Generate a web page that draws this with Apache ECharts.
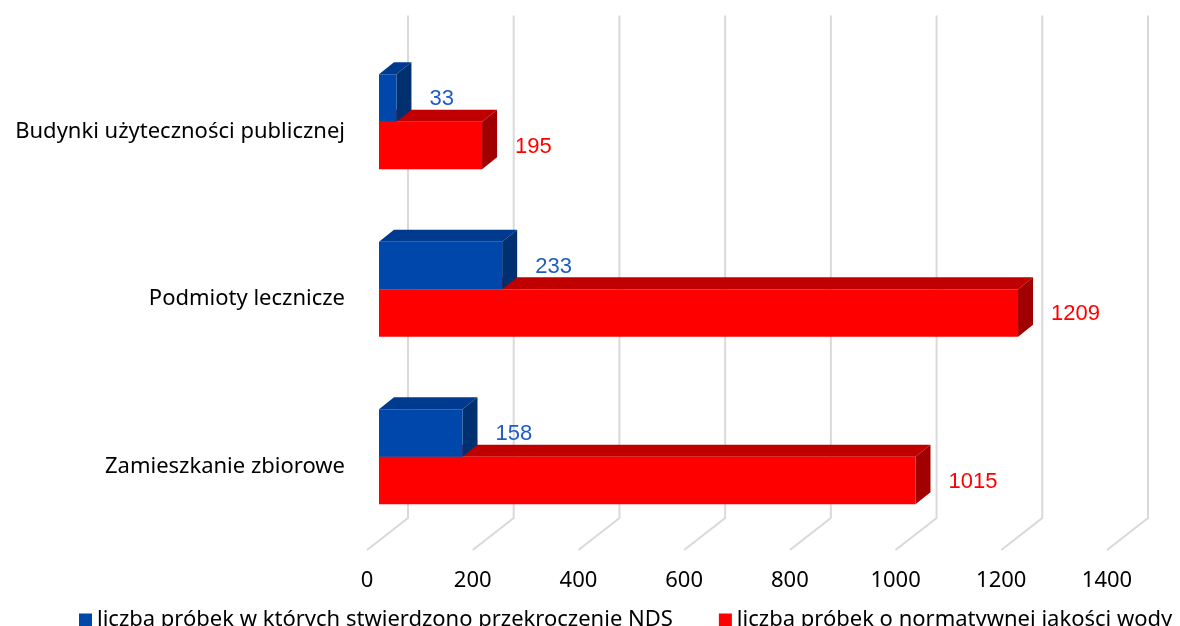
<!DOCTYPE html>
<html>
<head>
<meta charset="utf-8">
<script src="https://cdn.jsdelivr.net/npm/echarts@6/dist/echarts.min.js"></script>
<style>
  html, body { margin: 0; padding: 0; background: #fff; }
  #chart { width: 1180px; height: 626px; }
</style>
</head>
<body>
<div id="chart"></div>
<script>
// dane
const categories = ['Budynki użyteczności publicznej', 'Podmioty lecznicze', 'Zamieszkanie zbiorowe'];
const exceeded = [33, 233, 158];
const compliant = [195, 1209, 1015];
const xTicks = [0, 200, 400, 600, 800, 1000, 1200, 1400];
const seriesNames = ['liczba próbek w których stwierdzono przekroczenie NDS', 'liczba próbek o normatywnej jakości wody'];

const FONT = 'Noto Sans';
const LABEL_FONT = 'Liberation Sans';

// 3D look
const DX = 15, DY = 12;          // bar depth
const BACK_DX = 29, BACK_DY = 22.5;   // back wall from bar plane
const FRONT_DX = -12, FRONT_DY = 9.5; // floor front edge from bar plane

function barRenderer(colors, upper) {
  return function (params, api) {
    const v = api.value(0), c = api.value(1);
    const p0 = api.coord([0, c]);
    const p1 = api.coord([v, c]);
    const band = api.size([0, 1])[1];
    const h = band * 0.2836;
    const yTop = upper ? p0[1] - h : p0[1];
    const yBot = yTop + h;
    const x0 = p0[0], x1 = p1[0];
    return {
      type: 'group',
      children: [
        { type: 'polygon', shape: { points: [[x0, yTop], [x1, yTop], [x1 + DX, yTop - DY], [x0 + DX, yTop - DY]] }, style: { fill: colors.top } },
        { type: 'polygon', shape: { points: [[x1, yTop], [x1 + DX, yTop - DY], [x1 + DX, yBot - DY], [x1, yBot]] }, style: { fill: colors.side } },
        { type: 'rect', shape: { x: x0, y: yTop, width: x1 - x0, height: h }, style: { fill: colors.front } },
        { type: 'text', x: x1 + 33, y: (yTop + yBot) / 2 + 1, style: { text: String(v), fill: colors.label, font: '22px ' + LABEL_FONT, verticalAlign: 'middle', align: 'left' } }
      ]
    };
  };
}

const blue = { front: '#0047AB', top: '#003A8E', side: '#00306F', label: '#1F5CC4' };
const red = { front: '#FF0000', top: '#C00000', side: '#A00000', label: '#FF0000' };

const chart = echarts.init(document.getElementById('chart'));
chart.setOption({
  animation: false,
  backgroundColor: '#fff',
  grid: [
    { left: 379, top: 38, width: 740, height: 502.5 },
    { left: 367, top: 47.5, width: 740, height: 502.5 }
  ],
  xAxis: [
    { gridIndex: 0, type: 'value', min: 0, max: 1400, interval: 200, show: false },
    { gridIndex: 1, type: 'value', min: 0, max: 1400, interval: 200,
      axisLine: { show: false }, axisTick: { show: false }, splitLine: { show: false },
      axisLabel: { margin: 20, fontSize: 22, fontFamily: FONT, color: '#000', formatter: v => String(v) } }
  ],
  yAxis: [
    { gridIndex: 0, type: 'category', data: categories, inverse: true, show: false },
    { gridIndex: 1, type: 'category', data: categories, inverse: true,
      axisLine: { show: false }, axisTick: { show: false }, splitLine: { show: false },
      axisLabel: { margin: 22, fontSize: 22, fontFamily: FONT, color: '#000' } }
  ],
  legend: {
    data: seriesNames,
    left: 79, top: 609,
    itemWidth: 13, itemHeight: 13, itemGap: 46,
    icon: 'rect', padding: 0,
    textStyle: { fontSize: 22, fontFamily: FONT, color: '#000' }
  },
  series: [
    {
      type: 'custom', name: 'grid', xAxisIndex: 0, yAxisIndex: 0, z: 1, silent: true,
      data: xTicks.map(v => [v, 0]),
      encode: { x: 0, y: 1 },
      renderItem: function (params, api) {
        const x = api.coord([api.value(0), 0])[0];
        const cs = params.coordSys;
        const bottom = cs.y + cs.height, top = cs.y;
        return {
          type: 'polyline',
          shape: { points: [[x + FRONT_DX, bottom + FRONT_DY], [x + BACK_DX, bottom - BACK_DY], [x + BACK_DX, top - BACK_DY]] },
          style: { stroke: '#D9D9D9', lineWidth: 2, fill: null }
        };
      }
    },
    {
      type: 'custom', name: seriesNames[1], xAxisIndex: 0, yAxisIndex: 0, z: 2,
      itemStyle: { color: red.front },
      data: compliant.map((v, i) => [v, i]),
      encode: { x: 0, y: 1 },
      renderItem: barRenderer(red, false)
    },
    {
      type: 'custom', name: seriesNames[0], xAxisIndex: 0, yAxisIndex: 0, z: 3,
      itemStyle: { color: blue.front },
      data: exceeded.map((v, i) => [v, i]),
      encode: { x: 0, y: 1 },
      renderItem: barRenderer(blue, true)
    }
  ]
});
</script>
</body>
</html>
